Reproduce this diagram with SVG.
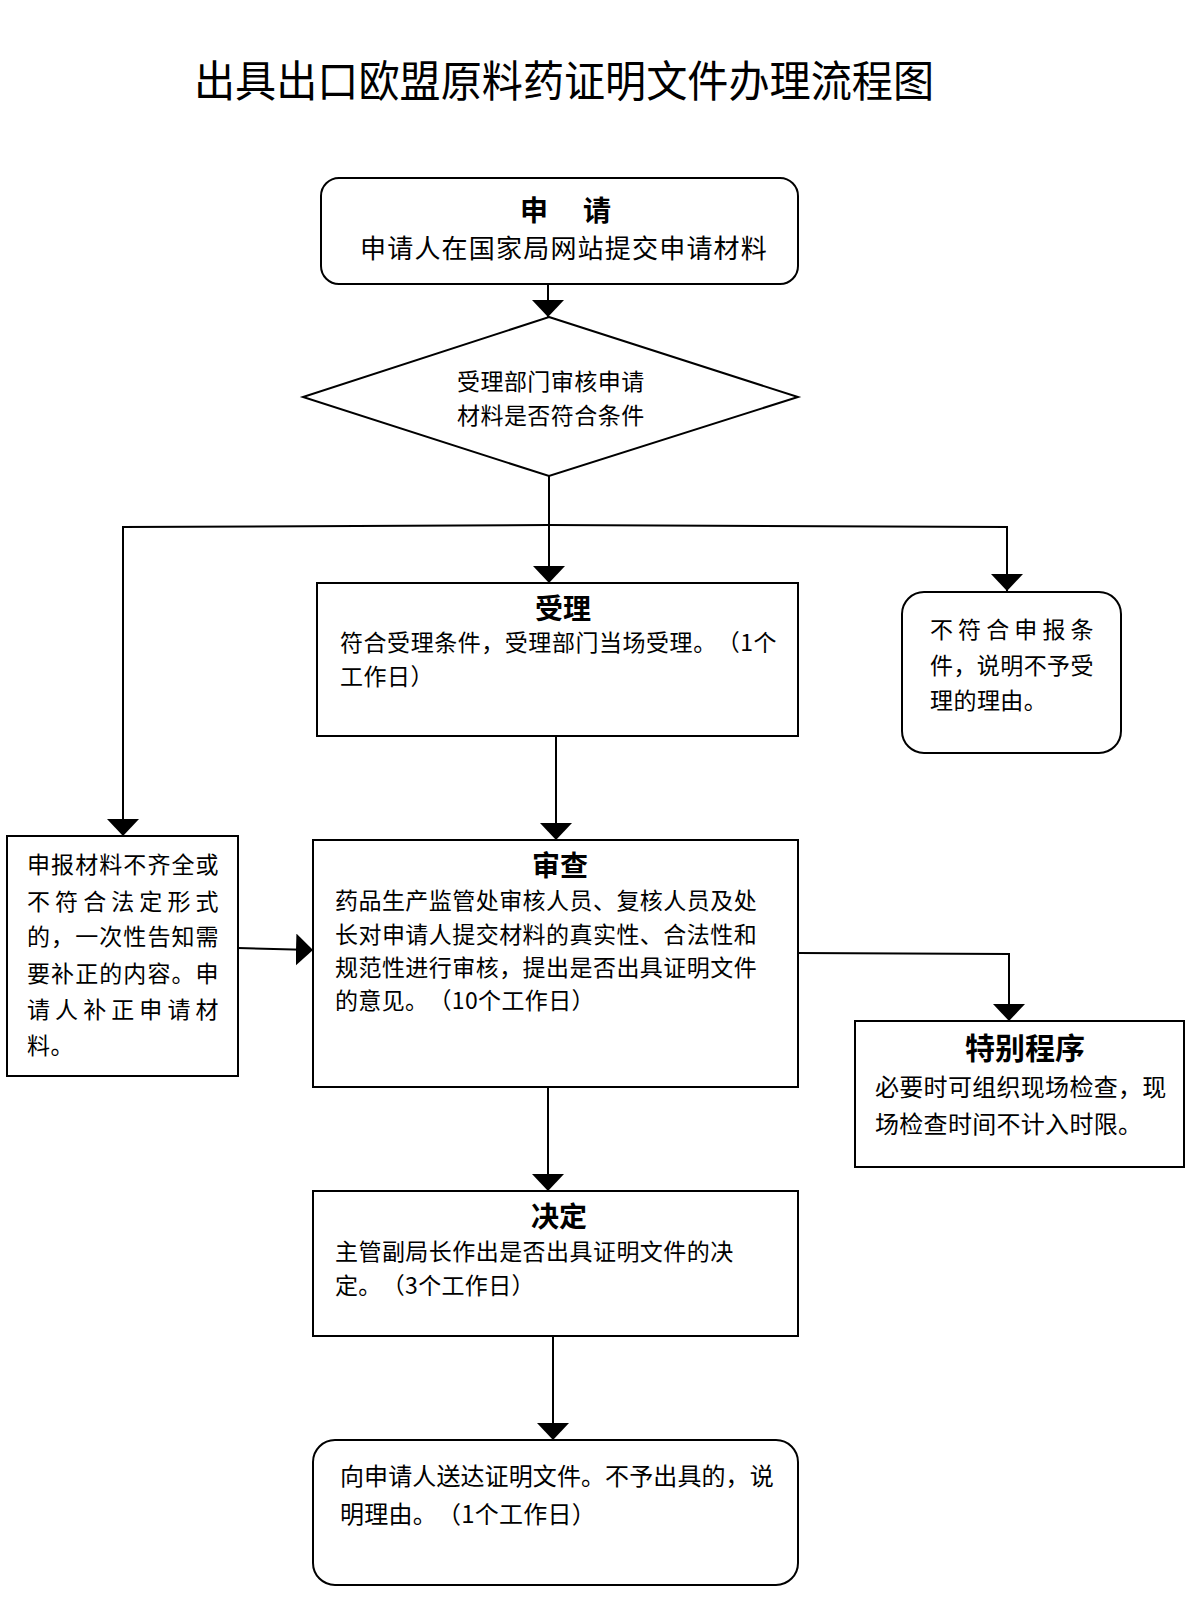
<svg xmlns="http://www.w3.org/2000/svg" width="1200" height="1621" viewBox="0 0 1200 1621">
<style>
text{font-family:"Noto Sans CJK SC","Noto Sans",sans-serif;fill:#000;text-spacing-trim:space-all}
.t{font-size:43px}
.h{font-size:28px;font-weight:bold;text-anchor:middle}
.b{font-size:23px;letter-spacing:0.45px}
.b24{font-size:24px;letter-spacing:0.3px}
.box{fill:#fff;stroke:#000;stroke-width:2}
.c{fill:none;stroke:#000;stroke-width:2}
</style>
<defs>
<marker id="ar" viewBox="0 0 17 32" refX="17" refY="16" markerWidth="17" markerHeight="32" markerUnits="userSpaceOnUse" orient="auto">
<path d="M0,0 L17,16 L0,32 z" fill="#000"/>
</marker>
</defs>
<rect width="1200" height="1621" fill="#fff"/>
<text class="t" x="194" y="97" textLength="740" lengthAdjust="spacingAndGlyphs">出具出口欧盟原料药证明文件办理流程图</text>

<g id="connectors">
<path class="c" d="M548,284 V317" marker-end="url(#ar)"/>
<path class="c" d="M549,476 V583" marker-end="url(#ar)"/>
<path class="c" d="M549,525 L123,527 V836" marker-end="url(#ar)"/>
<path class="c" d="M549,525 L1007,527 V591" marker-end="url(#ar)"/>
<path class="c" d="M556,736 V840" marker-end="url(#ar)"/>
<path class="c" d="M238,948 L313,950" marker-end="url(#ar)"/>
<path class="c" d="M798,953 L1009,954 V1021" marker-end="url(#ar)"/>
<path class="c" d="M548,1087 V1191" marker-end="url(#ar)"/>
<path class="c" d="M553,1336 V1440" marker-end="url(#ar)"/>
</g>

<g id="apply">
<rect class="box" x="321" y="178" width="477" height="106" rx="18"/>
<text class="h" y="221"><tspan x="534">申</tspan><tspan x="597">请</tspan></text>
<text x="360" y="258" style="font-size:26px;letter-spacing:1.2px">申请人在国家局网站提交申请材料</text>
</g>

<g id="check">
<polygon class="box" points="549,317 798,397 549,476 303,397"/>
<text class="b" x="457" y="390">受理部门审核申请</text>
<text class="b" x="457" y="424">材料是否符合条件</text>
</g>

<g id="accept">
<rect class="box" x="317" y="583" width="481" height="153"/>
<text class="h" x="563" y="619">受理</text>
<text class="b" x="340" y="651" textLength="437" lengthAdjust="spacing">符合受理条件，受理部门当场受理。（1个</text>
<text class="b" x="340" y="685" textLength="94" lengthAdjust="spacing">工作日）</text>
</g>

<g id="reject">
<rect class="box" x="902" y="592" width="219" height="161" rx="22"/>
<text class="b" x="930" y="638" textLength="164" lengthAdjust="spacing">不符合申报条</text>
<text class="b" x="930" y="674" textLength="164" lengthAdjust="spacing">件，说明不予受</text>
<text class="b" x="930" y="709">理的理由。</text>
</g>

<g id="supplement">
<rect class="box" x="7" y="836" width="231" height="240"/>
<text class="b" x="27" y="873" textLength="192" lengthAdjust="spacing">申报材料不齐全或</text>
<text class="b" x="27" y="910" textLength="192" lengthAdjust="spacing">不符合法定形式</text>
<text class="b" x="27" y="945" textLength="192" lengthAdjust="spacing">的，一次性告知需</text>
<text class="b" x="27" y="982" textLength="192" lengthAdjust="spacing">要补正的内容。申</text>
<text class="b" x="27" y="1018" textLength="192" lengthAdjust="spacing">请人补正申请材</text>
<text class="b" x="27" y="1054">料。</text>
</g>

<g id="review">
<rect class="box" x="313" y="840" width="485" height="247"/>
<text class="h" x="560" y="876">审查</text>
<text class="b" x="335" y="909">药品生产监管处审核人员、复核人员及处</text>
<text class="b" x="335" y="943">长对申请人提交材料的真实性、合法性和</text>
<text class="b" x="335" y="976">规范性进行审核，提出是否出具证明文件</text>
<text class="b" x="335" y="1009" textLength="260" lengthAdjust="spacing">的意见。（10个工作日）</text>
</g>

<g id="special">
<rect class="box" x="855" y="1021" width="329" height="146"/>
<text class="h" x="1025" y="1059" style="font-size:30px">特别程序</text>
<text class="b24" x="875" y="1096">必要时可组织现场检查，现</text>
<text class="b24" x="875" y="1133">场检查时间不计入时限。</text>
</g>

<g id="decide">
<rect class="box" x="313" y="1191" width="485" height="145"/>
<text class="h" x="559" y="1227">决定</text>
<text class="b" x="335" y="1260">主管副局长作出是否出具证明文件的决</text>
<text class="b" x="335" y="1294" textLength="200" lengthAdjust="spacing">定。（3个工作日）</text>
</g>

<g id="deliver">
<rect class="box" x="313" y="1440" width="485" height="145" rx="22"/>
<text class="b24" x="340" y="1485" textLength="434" lengthAdjust="spacing">向申请人送达证明文件。不予出具的，说</text>
<text class="b24" x="340" y="1523" textLength="256" lengthAdjust="spacing">明理由。（1个工作日）</text>
</g>
</svg>
